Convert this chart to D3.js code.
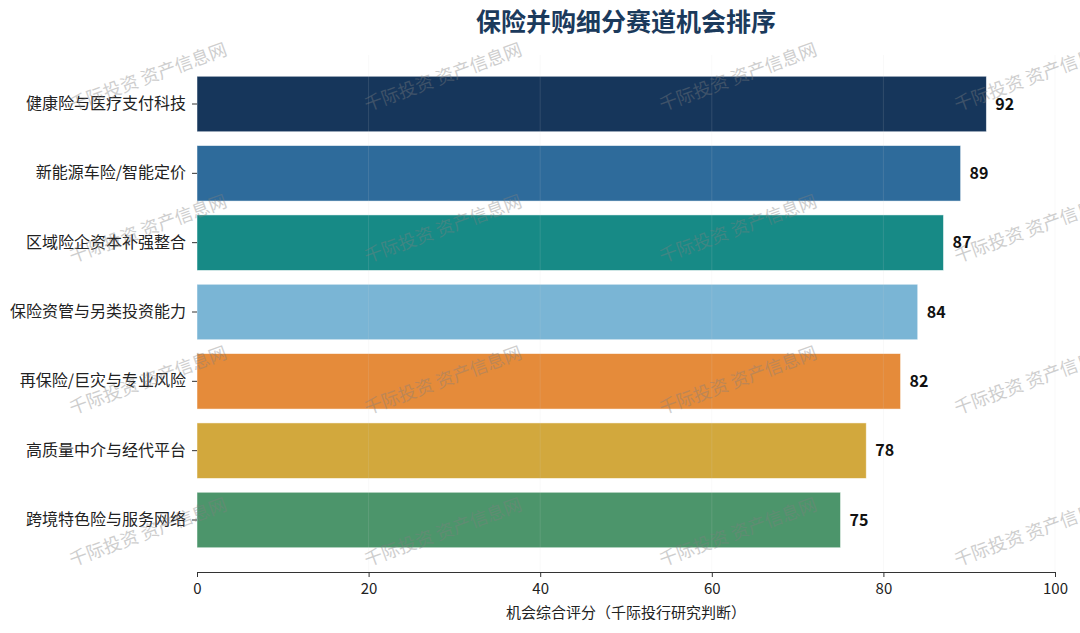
<!DOCTYPE html>
<html>
<head>
<meta charset="utf-8">
<script src="https://cdn.jsdelivr.net/npm/d3@7"></script>
<style>
  html, body { margin: 0; padding: 0; background: #fff; }
  svg { display: block; font-family: "Noto Sans CJK SC", "Noto Sans", sans-serif; }
</style>
</head>
<body>
<svg id="chart" width="1080" height="633"></svg>
<script>
var categories = [
    "健康险与医疗支付科技",
    "新能源车险/智能定价",
    "区域险企资本补强整合",
    "保险资管与另类投资能力",
    "再保险/巨灾与专业风险",
    "高质量中介与经代平台",
    "跨境特色险与服务网络"
];
var scores = [92, 89, 87, 84, 82, 78, 75];
var barColors = ["#16365b", "#2e6b9b", "#178a86", "#7ab5d5", "#e58b3a", "#d2a83d", "#4c956b"];
var xTicks = [0, 20, 40, 60, 80, 100];
var title = "保险并购细分赛道机会排序";
var xLabel = "机会综合评分（千际投行研究判断）";
var watermark = "千际投资 资产信息网";

function drawChart() {
    let chart = d3.select("#chart"),
        margin = { top: 52, right: 25, bottom: 61, left: 197 },
        width = +chart.attr("width") - margin.left - margin.right,
        height = +chart.attr("height") - margin.top - margin.bottom;

    let x = d3.scaleLinear()
        .domain([0, 100])
        .range([0, width]);

    let y = d3.scaleBand()
        .domain(categories)
        .range([0, height])
        .paddingInner(0.2)
        .paddingOuter(0.35);

    let focus = chart.append("g")
        .attr("transform", "translate(" + margin.left + "," + margin.top + ")");

    // bars
    focus.selectAll(".bar")
        .data(categories)
        .enter().append("rect")
        .attr("class", "bar")
        .attr("x", x(0))
        .attr("y", d => y(d))
        .attr("width", (d, i) => x(scores[i]) - x(0))
        .attr("height", y.bandwidth())
        .style("fill", (d, i) => barColors[i])
        .style("stroke", "#ffffff")
        .style("stroke-opacity", 0.6)
        .style("stroke-width", "0.8px");

    // faint vertical grid (sits over the bars, as in the original)
    focus.selectAll(".grid")
        .data(xTicks.slice(1))
        .enter().append("line")
        .attr("class", "grid")
        .attr("x1", d => x(d))
        .attr("x2", d => x(d))
        .attr("y1", 3)
        .attr("y2", height)
        .style("stroke", "#d8d8d8")
        .style("stroke-opacity", 0.14)
        .style("stroke-width", "1px");

    // value labels
    focus.selectAll(".value")
        .data(categories)
        .enter().append("text")
        .attr("class", "value")
        .attr("x", (d, i) => x(scores[i]) + 9)
        .attr("y", d => y(d) + y.bandwidth() / 2)
        .attr("dy", "0.36em")
        .style("font-size", "16px")
        .style("font-weight", "bold")
        .style("fill", "#111")
        .text((d, i) => scores[i]);

    // axes
    let xAxis = d3.axisBottom(x)
        .tickValues(xTicks)
        .tickSize(5)
        .tickSizeOuter(0);

    let yAxis = d3.axisLeft(y)
        .tickSize(5)
        .tickPadding(6);

    let gx = focus.append("g")
        .attr("class", "axis axis--x")
        .attr("transform", "translate(0," + height + ")")
        .call(xAxis);
    gx.select(".domain").style("stroke", "#333").style("stroke-width", "1.2px");
    gx.selectAll(".tick line").style("stroke", "#333").style("stroke-width", "1px");
    gx.selectAll(".tick text")
        .attr("dy", "0.95em")
        .style("font-size", "15px")
        .style("font-family", "'Noto Sans CJK SC', sans-serif")
        .style("fill", "#222");

    let gy = focus.append("g")
        .attr("class", "axis axis--y")
        .call(yAxis);
    gy.select(".domain").remove();
    gy.selectAll(".tick line").style("stroke", "#333").style("stroke-width", "1px");
    gy.selectAll(".tick text")
        .style("font-size", "16px")
        .style("font-family", "'Noto Sans CJK SC', sans-serif")
        .style("fill", "#222");

    focus.append("text")
        .attr("class", "axis-label")
        .attr("text-anchor", "middle")
        .attr("x", width / 2)
        .attr("y", height + 46)
        .style("font-size", "15px")
        .style("fill", "#222")
        .text(xLabel);

    chart.append("text")
        .attr("class", "title")
        .attr("text-anchor", "middle")
        .attr("x", margin.left + width / 2)
        .attr("y", 31)
        .style("font-size", "25px")
        .style("font-weight", "bold")
        .style("fill", "#1b3a5c")
        .text(title);

    // tiled watermark on top of everything; the right column runs off the page as in the original
    let marks = chart.append("g").attr("class", "watermark");
    for (let r = 0; r < 4; r++) {
        for (let c = 0; c < 4; c++) {
            let cx = 148 + c * 295,
                cy = 77 + r * 151.7;
            marks.append("text")
                .attr("text-anchor", "middle")
                .attr("dy", "0.35em")
                .attr("transform", "translate(" + cx + "," + cy + ") rotate(-20)")
                .style("font-size", "18px")
                .style("fill", "#808080")
                .style("opacity", 0.38)
                .text(watermark);
        }
    }
}

drawChart();
</script>
</body>
</html>
